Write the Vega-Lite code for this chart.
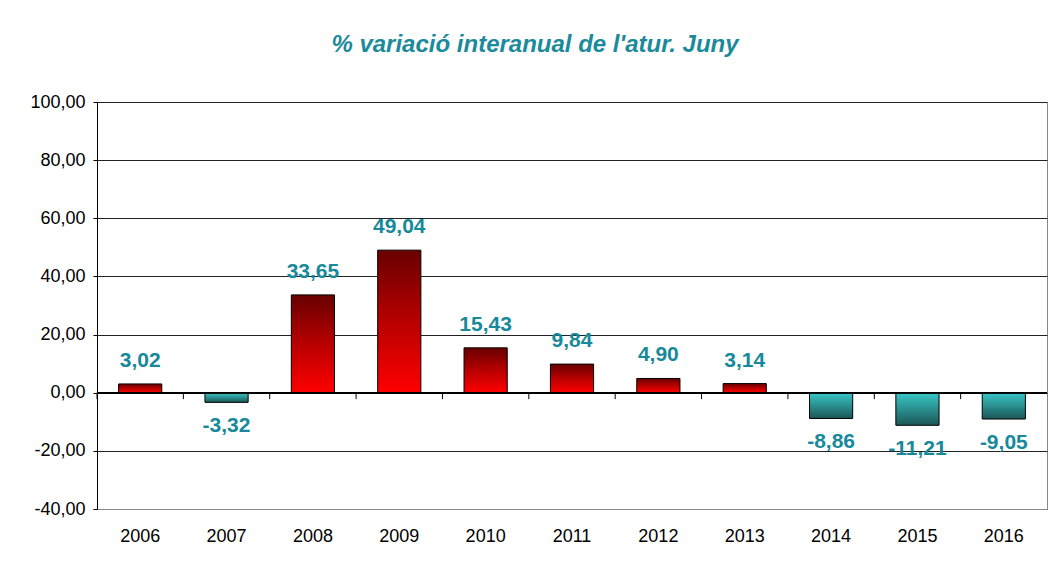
{
  "$schema": "https://vega.github.io/schema/vega-lite/v6.json",
  "width": 950,
  "height": 407,
  "autosize": {"type": "none"},
  "padding": {"left": 97, "top": 102, "right": 4, "bottom": 56},
  "background": "white",
  "config": {
    "locale": {"number": {"decimal": ",", "thousands": ".", "grouping": [3], "currency": ["", " €"], "minus": "-"}},
    "view": {"stroke": "#888888", "strokeWidth": 1},
    "font": "Liberation Sans"
  },
  "title": {
    "text": "% variació interanual de l'atur. Juny",
    "font": "Liberation Sans",
    "fontSize": 24,
    "fontWeight": "bold",
    "fontStyle": "italic",
    "color": "#1b8a9a",
    "anchor": "middle",
    "dx": -37,
    "offset": 17,
    "baseline": "alphabetic"
  },
  "data": {
    "values": [
      {"year": "2006", "value": 3.02},
      {"year": "2007", "value": -3.32},
      {"year": "2008", "value": 33.65},
      {"year": "2009", "value": 49.04},
      {"year": "2010", "value": 15.43},
      {"year": "2011", "value": 9.84},
      {"year": "2012", "value": 4.90},
      {"year": "2013", "value": 3.14},
      {"year": "2014", "value": -8.86},
      {"year": "2015", "value": -11.21},
      {"year": "2016", "value": -9.05}
    ]
  },
  "layer": [
    {
      "mark": {"type": "bar", "width": {"band": 0.5}, "stroke": "#000000", "strokeWidth": 1,
        "fill": {"gradient": "linear", "x1": 0, "y1": 0, "x2": 0, "y2": 1,
          "stops": [{"offset": 0, "color": "#680000"}, {"offset": 0.5, "color": "#b80000"}, {"offset": 1, "color": "#ff0000"}]}},
      "transform": [{"filter": "datum.value >= 0"}],
      "encoding": {
        "x": {"field": "year", "type": "ordinal", "scale": {"paddingInner": 0, "paddingOuter": 0},
          "axis": {"title": null, "orient": "bottom", "ticks": false, "labelFontSize": 18, "labelColor": "#000000", "labelPadding": 18, "labelAngle": 0, "domainColor": "#888888", "grid": false}},
        "y": {"field": "value", "type": "quantitative",
          "scale": {"domain": [-40, 100], "nice": false, "zero": false},
          "axis": {"title": null, "values": [-40, -20, 0, 20, 40, 60, 80, 100], "format": ".2f", "labelFontSize": 18, "labelColor": "#000000", "tickColor": "#000000", "tickSize": 4, "labelPadding": 8, "domainColor": "#000000", "gridColor": "#222222", "gridWidth": 1}}
      }
    },
    {
      "mark": {"type": "bar", "width": {"band": 0.5}, "stroke": "#000000", "strokeWidth": 1,
        "fill": {"gradient": "linear", "x1": 0, "y1": 0, "x2": 0, "y2": 1,
          "stops": [{"offset": 0, "color": "#38c8c8"}, {"offset": 1, "color": "#1c5656"}]}},
      "transform": [{"filter": "datum.value < 0"}],
      "encoding": {
        "x": {"field": "year", "type": "ordinal"},
        "y": {"field": "value", "type": "quantitative"}
      }
    },
    {
      "mark": {"type": "rule", "color": "#000000", "strokeWidth": 1},
      "encoding": {
        "y": {"datum": 0, "type": "quantitative"}
      }
    },
    {
      "mark": {"type": "rule", "color": "#000000", "strokeWidth": 1},
      "encoding": {
        "x": {"field": "year", "type": "ordinal", "bandPosition": 0},
        "y": {"datum": 0, "type": "quantitative"},
        "y2": {"datum": -2.2}
      }
    },
    {
      "mark": {"type": "text", "fontSize": 21, "fontWeight": "bold", "color": "#17899a", "baseline": "alphabetic", "dy": -17},
      "transform": [{"filter": "datum.value >= 0"}],
      "encoding": {
        "x": {"field": "year", "type": "ordinal"},
        "y": {"field": "value", "type": "quantitative"},
        "text": {"field": "value", "type": "quantitative", "format": ".2f"}
      }
    },
    {
      "mark": {"type": "text", "fontSize": 21, "fontWeight": "bold", "color": "#17899a", "baseline": "alphabetic", "dy": 30},
      "transform": [{"filter": "datum.value < 0"}],
      "encoding": {
        "x": {"field": "year", "type": "ordinal"},
        "y": {"field": "value", "type": "quantitative"},
        "text": {"field": "value", "type": "quantitative", "format": ".2f"}
      }
    }
  ]
}
